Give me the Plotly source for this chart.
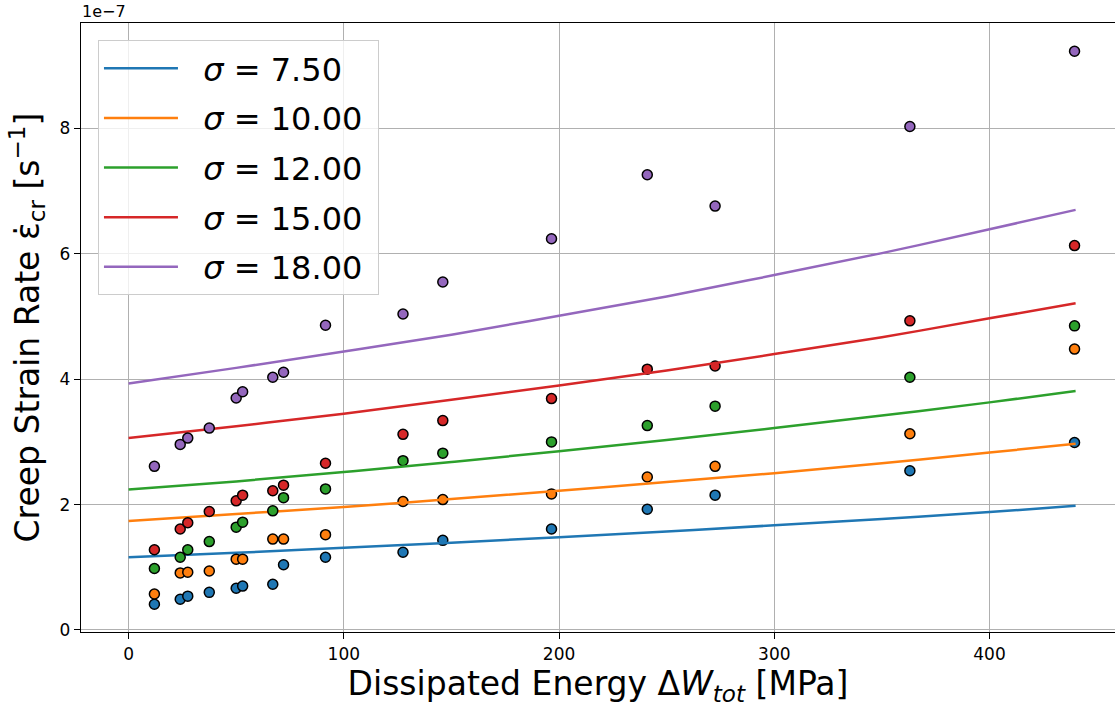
import plotly.graph_objects as go

# Measured energy (x) for all stress levels, MPa
energy = [12, 24, 27.5, 37.5, 50, 53, 67, 72, 91.5, 127.5, 146, 196.5, 241, 272.5, 363, 439.5]

# Measured creep strain rates, in units of 1e-7 1/s
rate_7_5 = [0.41, 0.49, 0.54, 0.60, 0.665, 0.70, 0.73, 1.04, 1.16, 1.24, 1.43, 1.61, 1.925, 2.15, 2.54, 2.99]
rate_10 = [0.574, 0.91, 0.92, 0.94, 1.13, 1.13, 1.45, 1.45, 1.52, 2.05, 2.08, 2.17, 2.44, 2.61, 3.13, 4.48]
rate_12 = [0.98, 1.16, 1.28, 1.41, 1.64, 1.72, 1.90, 2.11, 2.25, 2.70, 2.82, 3.00, 3.26, 3.57, 4.03, 4.85]
rate_15 = [1.28, 1.61, 1.71, 1.89, 2.06, 2.15, 2.22, 2.31, 2.66, 3.12, 3.34, 3.69, 4.16, 4.21, 4.93, 6.13]
rate_18 = [2.61, 2.96, 3.06, 3.22, 3.70, 3.80, 4.03, 4.11, 4.86, 5.04, 5.55, 6.24, 7.26, 6.76, 8.03, 9.23]

# Fitted model curves (units of 1e-7 1/s)
fit_energy = [0, 50, 100, 150, 200, 250, 300, 350, 400, 440]
fit_7_5 = [1.16, 1.23, 1.31, 1.39, 1.48, 1.57, 1.67, 1.77, 1.88, 1.98]
fit_10 = [1.74, 1.85, 1.96, 2.09, 2.22, 2.36, 2.50, 2.66, 2.83, 2.97]
fit_12 = [2.24, 2.37, 2.52, 2.68, 2.85, 3.03, 3.22, 3.42, 3.63, 3.81]
fit_15 = [3.06, 3.25, 3.45, 3.67, 3.90, 4.14, 4.40, 4.67, 4.97, 5.21]
fit_18 = [3.93, 4.18, 4.44, 4.71, 5.01, 5.32, 5.66, 6.01, 6.39, 6.70]

sigma_labels = ["7.50", "10.00", "12.00", "15.00", "18.00"]
colors = ["#1f77b4", "#ff7f0e", "#2ca02c", "#d62728", "#9467bd"]
measured = [rate_7_5, rate_10, rate_12, rate_15, rate_18]
fitted = [fit_7_5, fit_10, fit_12, fit_15, fit_18]

x_ticks = [0, 100, 200, 300, 400]
y_ticks = [0, 2, 4, 6, 8]

FONT = "DejaVu Sans"

fig = go.Figure()
for lab, col, meas, fit in zip(sigma_labels, colors, measured, fitted):
    fig.add_trace(go.Scatter(
        x=energy, y=meas, mode="markers", legendgroup=lab, showlegend=False,
        marker=dict(size=10, color=col, line=dict(color="black", width=1.5)),
    ))
    fig.add_trace(go.Scatter(
        x=fit_energy, y=fit, mode="lines", legendgroup=lab,
        name=f"\u00a0\u00a0<i>σ</i> = {lab}\u00a0",
        line=dict(color=col, width=2.5, shape="spline"),
    ))

fig.update_layout(
    width=1115, height=709,
    margin=dict(l=81, r=0, t=23, b=77),
    paper_bgcolor="white", plot_bgcolor="white",
    font=dict(family=FONT, color="black"),
    showlegend=True,
    legend=dict(
        x=0.0164, y=0.972, xanchor="left", yanchor="top",
        bgcolor="rgba(255,255,255,0.8)", bordercolor="#cccccc", borderwidth=1,
        font=dict(size=32, family=FONT), tracegroupgap=5,
        itemwidth=74,
    ),
    xaxis=dict(
        range=[-22.1, 458.3], tickvals=x_ticks, ticktext=[str(v) for v in x_ticks],
        showgrid=True, gridcolor="#b0b0b0", gridwidth=1.3,
        showline=True, linecolor="black", linewidth=1.4, mirror=True,
        ticks="outside", ticklen=6, tickwidth=1.3, tickcolor="black",
        tickfont=dict(size=17, family=FONT),
        zeroline=False, automargin=False,
        title=dict(text="Dissipated Energy Δ<i>W</i><sub><i>tot</i></sub> [MPa]",
                   font=dict(size=33, family=FONT), standoff=4),
    ),
    yaxis=dict(
        range=[-0.032, 9.68], tickvals=y_ticks, ticktext=[str(v) for v in y_ticks],
        showgrid=True, gridcolor="#b0b0b0", gridwidth=1.3,
        showline=True, linecolor="black", linewidth=1.4, mirror=False,
        ticks="outside", ticklen=6, tickwidth=1.3, tickcolor="black",
        tickfont=dict(size=17, family=FONT),
        zeroline=False, automargin=False,
        title=dict(text="Creep Strain Rate ε̇<sub>cr</sub> [s<sup>−1</sup>]",
                   font=dict(size=33, family=FONT), standoff=10),
    ),
    annotations=[dict(
        text="1e−7", xref="paper", yref="paper", x=0, y=1,
        xanchor="left", yanchor="bottom", showarrow=False,
        font=dict(size=16, family=FONT), borderpad=0, yshift=1,
    )],
)

# remove the default page margin so the 1115x709 figure fills the window exactly
fig.write_html("out.html", config={"displayModeBar": False},
               post_script="document.body.style.margin='0';")
